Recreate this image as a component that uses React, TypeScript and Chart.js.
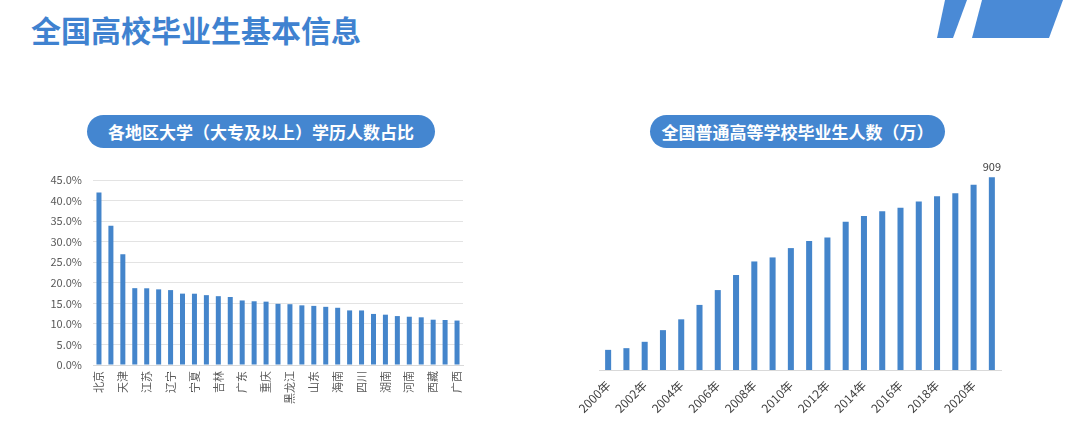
import React, { useEffect, useRef } from "react";
import { Chart, registerables } from "chart.js";

Chart.register(...registerables);

const pageTitle = "全国高校毕业生基本信息";
const leftTitle = "各地区大学（大专及以上）学历人数占比";
const rightTitle = "全国普通高等学校毕业生人数（万）";

const provinces = [
  "北京", "上海", "天津", "内蒙古", "江苏", "陕西", "辽宁", "山西", "宁夏", "浙江",
  "吉林", "新疆", "广东", "湖北", "重庆", "青海", "黑龙江", "甘肃", "山东", "福建",
  "海南", "安徽", "四川", "河北", "湖南", "江西", "河南", "云南", "西藏", "贵州", "广西",
];
const shares = [
  41.98, 33.87, 26.94, 18.69, 18.66, 18.4, 18.22, 17.36, 17.34, 16.99,
  16.74, 16.54, 15.7, 15.5, 15.41, 14.88, 14.79, 14.51, 14.38, 14.15,
  13.92, 13.28, 13.27, 12.42, 12.24, 11.9, 11.74, 11.6, 11.02, 10.95, 10.81,
];
const years = [
  "2000年", "2001年", "2002年", "2003年", "2004年", "2005年", "2006年", "2007年",
  "2008年", "2009年", "2010年", "2011年", "2012年", "2013年", "2014年", "2015年",
  "2016年", "2017年", "2018年", "2019年", "2020年", "2021年",
];
const graduates = [
  95, 103, 133, 188, 239, 307, 377, 448, 512, 531, 575, 608, 625, 699, 727, 749,
  765, 795, 820, 834, 874, 909,
];
const labelledValue = 909;

const BLUE = "#4486d0";
const BAR = "#4485cb";
const FONT = "'Noto Sans CJK SC', 'Noto Sans', sans-serif";

function LeftChart() {
  const ref = useRef<HTMLCanvasElement | null>(null);
  useEffect(() => {
    if (!ref.current) return;
    const chart = new Chart(ref.current, {
      type: "bar",
      data: {
        labels: provinces,
        datasets: [
          {
            data: shares,
            backgroundColor: BAR,
            barPercentage: 0.42,
            categoryPercentage: 1,
          },
        ],
      },
      options: {
        animation: false,
        responsive: true,
        maintainAspectRatio: false,
        layout: { padding: { top: 10, right: 7, left: 0, bottom: 0 } },
        plugins: { legend: { display: false }, tooltip: { enabled: false } },
        scales: {
          x: {
            grid: { display: false, drawTicks: false },
            border: { display: true, color: "#d9d9d9" },
            ticks: {
              autoSkip: false,
              minRotation: 90,
              maxRotation: 90,
              padding: 6,
              color: "#595959",
              font: { size: 11, family: FONT },
              callback: (_v: any, i: number) => (i % 2 === 0 ? provinces[i] : ""),
            },
            afterFit: (s: any) => {
              s.height = 55;
              s.paddingLeft = 0;
              s.paddingRight = 0;
            },
          },
          y: {
            min: 0,
            max: 45,
            grid: { color: "#e3e3e3", drawTicks: false },
            border: { display: false },
            ticks: {
              stepSize: 5,
              padding: 11,
              color: "#595959",
              font: { size: 11, family: FONT },
              callback: (v: any) => Number(v).toFixed(1) + "%",
            },
            afterFit: (s: any) => {
              s.width = 63;
              s.paddingTop = 0;
              s.paddingBottom = 0;
            },
          },
        },
      },
    });
    return () => chart.destroy();
  }, []);
  return (
    <div style={{ position: "absolute", left: 30, top: 170, width: 440, height: 250 }}>
      <canvas ref={ref} />
    </div>
  );
}

function RightChart() {
  const ref = useRef<HTMLCanvasElement | null>(null);
  useEffect(() => {
    if (!ref.current) return;
    const valueLabel = {
      id: "valueLabel",
      afterDatasetsDraw(chart: any) {
        const meta = chart.getDatasetMeta(0);
        const ctx = chart.ctx;
        ctx.save();
        ctx.font = `11px ${FONT}`;
        ctx.fillStyle = "#404040";
        ctx.textAlign = "center";
        ctx.textBaseline = "bottom";
        graduates.forEach((v, i) => {
          if (v !== labelledValue) return;
          const el = meta.data[i];
          ctx.fillText(String(v), el.x, el.y - 5);
        });
        ctx.restore();
      },
    };
    const chart = new Chart(ref.current, {
      type: "bar",
      data: {
        labels: years,
        datasets: [
          {
            data: graduates,
            backgroundColor: BAR,
            barPercentage: 0.33,
            categoryPercentage: 1,
          },
        ],
      },
      options: {
        animation: false,
        responsive: true,
        maintainAspectRatio: false,
        layout: { padding: { top: 8, right: 9, left: 29, bottom: 0 } },
        plugins: { legend: { display: false }, tooltip: { enabled: false } },
        scales: {
          x: {
            grid: { display: false, drawTicks: false },
            border: { display: true, color: "#d9d9d9" },
            ticks: {
              autoSkip: false,
              minRotation: 45,
              maxRotation: 45,
              padding: 8,
              color: "#404040",
              font: { size: 12, family: FONT },
              callback: (_v: any, i: number) => (i % 2 === 0 ? years[i] : ""),
            },
            afterFit: (s: any) => {
              s.height = 60;
              s.paddingLeft = 0;
              s.paddingRight = 0;
            },
          },
          y: {
            display: false,
            min: 0,
            max: 1000,
          },
        },
      },
      plugins: [valueLabel],
    });
    return () => chart.destroy();
  }, []);
  return (
    <div style={{ position: "absolute", left: 570, top: 150, width: 440, height: 280 }}>
      <canvas ref={ref} />
    </div>
  );
}

function Pill({ left, width, text }: { left: number; width: number; text: string }) {
  return (
    <div
      style={{
        position: "absolute",
        left,
        top: 115,
        width,
        height: 33,
        borderRadius: 17,
        background: BLUE,
        color: "#ffffff",
        fontFamily: FONT,
        fontWeight: 700,
        fontSize: 17,
        lineHeight: "33px",
        textAlign: "center",
        whiteSpace: "nowrap",
      }}
    >
      {text}
    </div>
  );
}

export default function App() {
  return (
    <div
      style={{
        position: "absolute",
        left: 0,
        top: 0,
        width: 1080,
        height: 435,
        background: "#ffffff",
        overflow: "hidden",
      }}
    >
      <div
        style={{
          position: "absolute",
          left: 31,
          top: 9,
          fontFamily: FONT,
          fontWeight: 700,
          fontSize: 30,
          lineHeight: "40px",
          color: "#3f82d0",
          whiteSpace: "nowrap",
        }}
      >
        {pageTitle}
      </div>
      <svg
        style={{ position: "absolute", left: 0, top: 0 }}
        width={1080}
        height={60}
      >
        <polygon points="945,0 967,0 953,38 937,38" fill="#4a8ad6" />
        <polygon points="982,0 1063,0 1049,38 972,38" fill="#4a8ad6" />
      </svg>
      <Pill left={87} width={348} text={leftTitle} />
      <Pill left={650} width={295} text={rightTitle} />
      <LeftChart />
      <RightChart />
    </div>
  );
}
